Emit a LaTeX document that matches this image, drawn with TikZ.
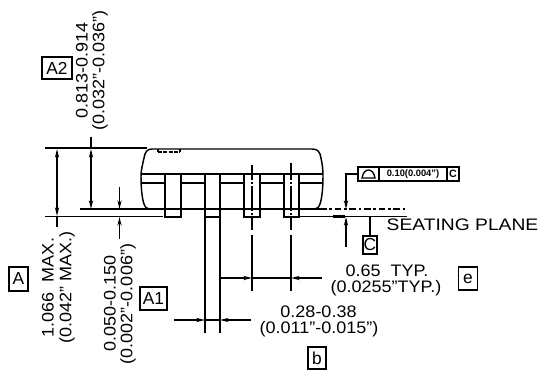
\documentclass[tikz,border=0pt]{standalone}
\usepackage{fontspec}
\setmainfont{Liberation Sans}
\usetikzlibrary{arrows.meta}
\tikzset{
  outline/.style={line width=1.1pt},
  dimline/.style={line width=1pt},
  dimarrow/.style={line width=1pt,-{Stealth[length=6.5pt,width=3.2pt]}},
  centerline/.style={line width=1pt,dash pattern=on 11.25pt off 1.5pt on 1.5pt off 1.5pt on 18.75pt off 1.5pt on 1.5pt off 1.5pt on 9.75pt off 3.75pt on 42pt off 9pt},
  dimtext/.style={inner sep=0pt,font=\fontsize{12.5pt}{14pt}\selectfont,xscale=1.08},
  dimtextv/.style={inner sep=0pt,font=\fontsize{12.5pt}{14pt}\selectfont,rotate=90,xscale=1.08},
  datumbox/.style={draw,line width=1.1pt,inner sep=0pt,font=\fontsize{13pt}{15pt}\selectfont},
  fcfbox/.style={draw,line width=1pt,inner sep=0pt,minimum height=10.5pt}
}
\begin{document}
\begin{tikzpicture}[x=0.75pt,y=0.75pt,yscale=-1,xscale=1]
\useasboundingbox (0,0) rectangle (542,370);

%Package body
\draw [outline] (152,149) -- (312,149) .. controls (318,149) and (320,152) .. (321,158) .. controls (322.5,165) and (323,170) .. (323,176) .. controls (323,188) and (322,198) .. (320,204) .. controls (319,207) and (318,208.5) .. (315,209) ;
\draw [outline] (152,149) .. controls (147,149) and (145,152) .. (144,158) .. controls (142.5,165) and (141,170) .. (141,176) .. controls (141,188) and (142,198) .. (144,204) .. controls (145,207) and (146,208.5) .. (149,209) ;
\draw [line width=0.9pt,dash pattern=on 3pt off 1pt] (158,152) -- (180,152) ;
\draw [line width=0.9pt] (158,149) -- (158,152) (180,149) -- (180,152) ;

%Band lines
\draw [outline] (141,174) -- (323,174) ;
\draw [outline] (141,183) -- (165,183) ;
\draw [outline] (181,183) -- (205,183) ;
\draw [outline] (220,183) -- (244,183) ;
\draw [outline] (260,183) -- (284,183) ;
\draw [outline] (299,183) -- (323,183) ;

%Leads
\draw [outline] (165,174) rectangle (181,217) ;
\draw [outline] (205,174) rectangle (220,217) ;
\draw [outline] (244,174) rectangle (260,217) ;
\draw [outline] (284,174) rectangle (299,217) ;

%Reference lines
\draw [line width=1.3pt] (45,148) -- (147,148) ;
\draw [line width=1.1pt] (80,209) -- (320,209) ;
\draw [line width=1.3pt] (45,216.5) -- (163,216.5) ;
\draw [line width=0.9pt] (299,216.5) -- (407,216.5) ;
\draw [line width=1.8pt] (333,216.5) -- (345,216.5) ;
\draw [line width=0.9pt,dash pattern=on 5pt off 2pt on 2pt off 2pt] (320,209) -- (407,209) ;

%Center lines
\draw [centerline] (252,165) -- (252,291) ;
\draw [dimline] (291,163) -- (291,165) ;
\draw [centerline] (291,165) -- (291,291) ;
\draw [dimline] (205,217) -- (205,333) ;
\draw [dimline] (220,217) -- (220,333) ;

%Dimension A
\draw [dimarrow] (57,180) -- (57,149) ;
\draw [dimarrow] (57,180) -- (57,216) ;
\draw [dimline] (57,216) -- (57,227) ;

%Dimension A2
\draw [dimline] (91,137) -- (91,149) ;
\draw [dimarrow] (91,180) -- (91,149) ;
\draw [dimarrow] (91,180) -- (91,209) ;

%Dimension A1
\draw [dimarrow] (119.5,187) -- (119.5,209) ;
\draw [dimarrow] (119.5,239) -- (119.5,217) ;

%Dimension b
\draw [dimarrow] (174,320) -- (205,320) ;
\draw [dimline] (205,320) -- (220,320) ;
\draw [dimarrow] (251,320) -- (220,320) ;

%Dimension e
\draw [dimarrow] (220,278) -- (252,278) ;
\draw [dimline] (252,278) -- (291,278) ;
\draw [dimarrow] (322,278) -- (291,278) ;

% Datum boxes
\node [datumbox,minimum width=22.5pt,minimum height=16.5pt] (boxA2) at (57,68) {A2};
\node [datumbox,minimum width=14.25pt,minimum height=18pt] (boxA) at (18.5,279) {A};
\node [datumbox,minimum width=20pt,minimum height=17pt] (boxA1) at (153.5,298.5) {A1};
\node [datumbox,minimum width=13.5pt,minimum height=16.5pt] (boxb) at (317,358) {b};
\node [datumbox,minimum width=14.25pt,minimum height=17pt] (boxe) at (468,278.5) {e};
\node [datumbox,minimum width=10.5pt,minimum height=13.5pt] (boxC) at (370,245) {C};

% Flatness frame
\node [fcfbox,minimum width=15.75pt] (fcfsym) at (368.5,174) {};
\node [fcfbox,minimum width=51pt,font=\bfseries\fontsize{7pt}{8pt}\selectfont] (fcfval) at (413,174) {0.10(0.004")};
\node [fcfbox,minimum width=9pt,font=\bfseries\fontsize{8pt}{9pt}\selectfont] (fcfdatum) at (453,174) {C};
\draw [dimline] (362,178) .. controls (363,172) and (366,170) .. (368.5,170) .. controls (371,170) and (374,172) .. (375,178) -- cycle ;

\coordinate (flatup) at (346,209);
\coordinate (flatdown) at (346,217);
\coordinate (flattail) at (346,247);
\coordinate (planeC) at (370,217);
\draw [dimarrow] (fcfsym.west) -| (flatup) ;
\draw [dimarrow] (flattail) -- (flatdown) ;
\draw [dimline] (boxC.north) -- (planeC) ;

% Text Node
\node [dimtextv] (a2size) at (82,70.5) {0.813-0.914};
\node [dimtextv] (a2inch) at (100,70.5) {(0.032"-0.036")};
\node [dimtextv] (asize) at (48,287.5) {1.066\ \ MAX.};
\node [dimtextv] (ainch) at (67,287.5) {(0.042"\ MAX.)};
\node [dimtextv] (a1size) at (110,303.5) {0.050-0.150};
\node [dimtextv] (a1inch) at (128,304) {(0.002"-0.006")};
\node [dimtext] (bsize) at (318.5,312) {0.28-0.38};
\node [dimtext] (binch) at (319,329) {(0.011"-0.015")};
\node [dimtext] (esize) at (387,271) {0.65\ \ TYP.};
\node [dimtext] (einch) at (386,288) {(0.0255"TYP.)};
\node [dimtext,xscale=1.07] (seating) at (462.5,225) {SEATING PLANE};

\end{tikzpicture}
\end{document}
